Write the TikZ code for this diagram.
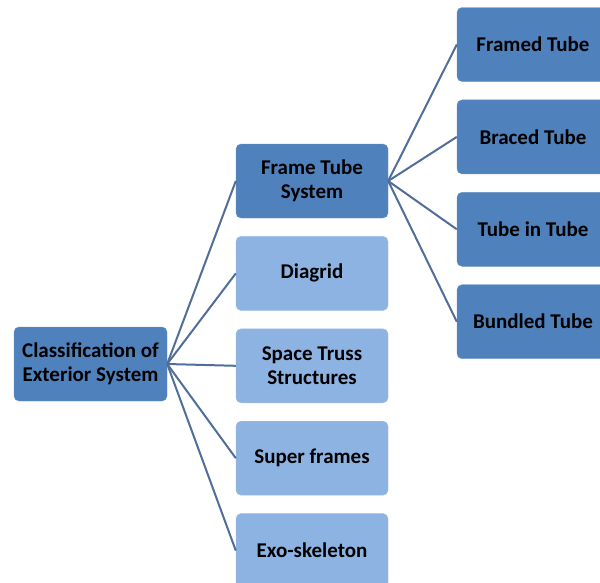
\documentclass[tikz,border=0pt]{standalone}
\usepackage{fontspec}
\setmainfont{Carlito}
\usetikzlibrary{positioning}
\definecolor{darkblue}{RGB}{79,129,189}
\definecolor{lightblue}{RGB}{141,179,226}
\definecolor{linkblue}{RGB}{80,110,152}

\begin{document}
\begin{tikzpicture}[x=1pt, y=-1pt,
    box/.style={rounded corners=5pt, minimum width=152pt, minimum height=74pt, align=center, inner sep=1pt, font=\bfseries\fontsize{21}{24}\selectfont},
    mainbox/.style={box, fill=darkblue, draw=darkblue!85!white},
    subbox/.style={box, fill=lightblue, draw=lightblue!85!white},
    link/.style={draw=linkblue, line width=2pt},
    node distance=18pt]
    \useasboundingbox (0,0) rectangle (600,582);
    % root
    \node[mainbox, minimum width=153pt] (cls) at (90.5,364) {Classification of\\Exterior System};
    % first level
    \node[mainbox] (ftube) at (312,181) {Frame Tube\\System};
    \node[subbox, below=of ftube] (diag) {Diagrid};
    \node[subbox, below=of diag] (truss) {Space Truss\\Structures};
    \node[subbox, below=of truss] (super) {Super frames};
    \node[subbox, below=of super] (exo) {Exo-skeleton};
    % second level
    \node[mainbox] (framed) at (533,44.5) {Framed Tube};
    \node[mainbox, below=of framed] (braced) {Braced Tube};
    \node[mainbox, below=of braced] (tintube) {Tube in Tube};
    \node[mainbox, below=of tintube] (bundled) {Bundled Tube};
    % links
    \foreach \n in {ftube, diag, truss, super, exo}
        \draw[link] (cls.east) -- (\n.west);
    \foreach \n in {framed, braced, tintube, bundled}
        \draw[link] (ftube.east) -- (\n.west);
\end{tikzpicture}
\end{document}
